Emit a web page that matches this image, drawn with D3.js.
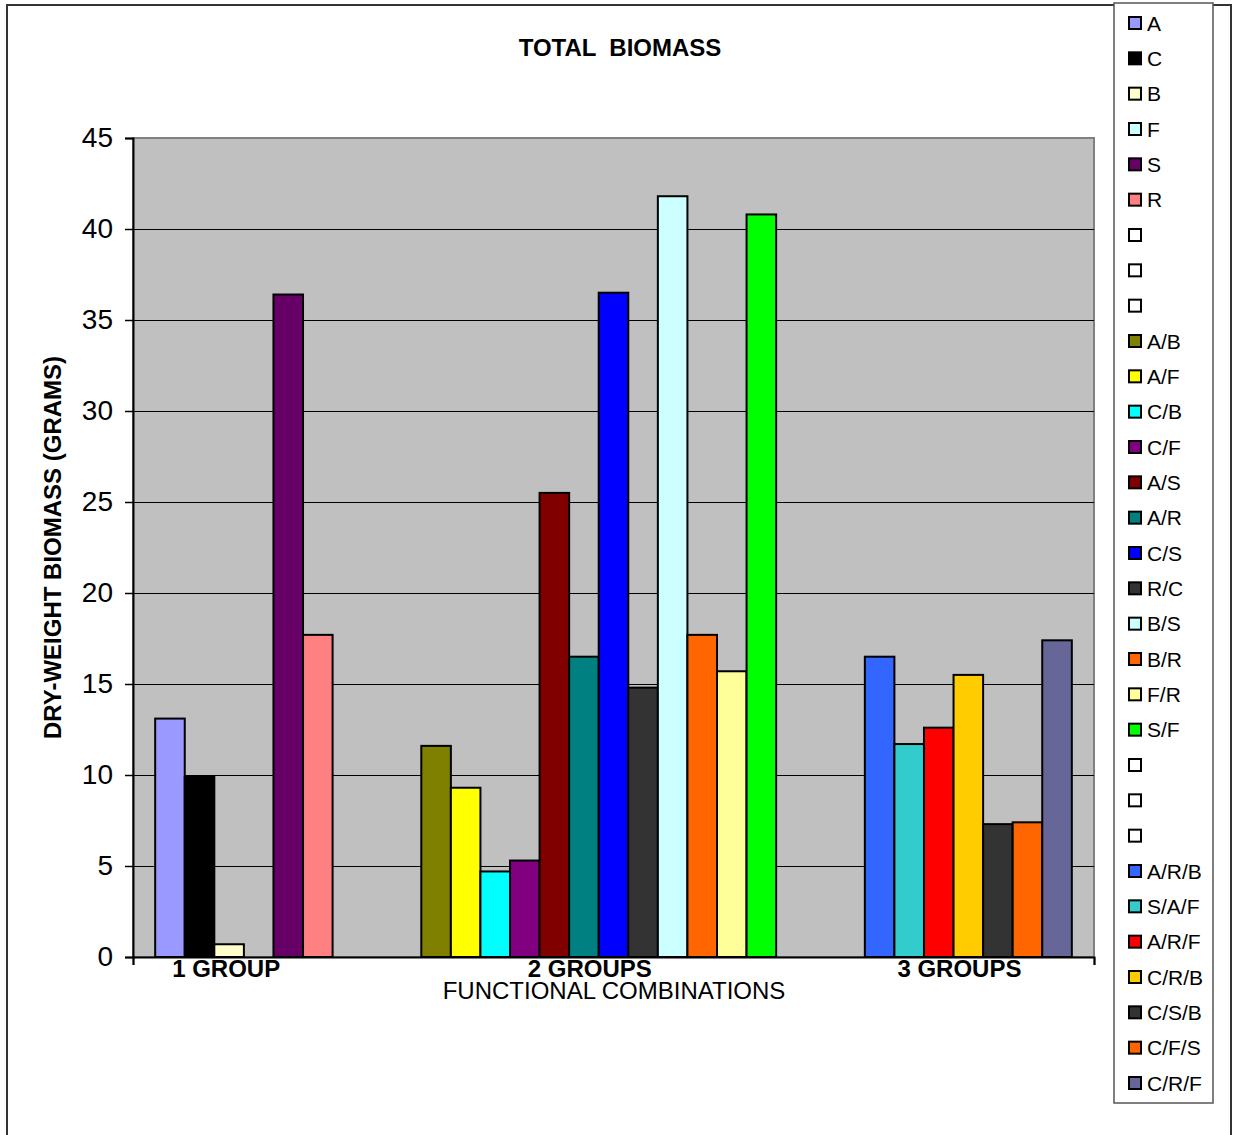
<!DOCTYPE html>
<html>
<head>
<meta charset="utf-8">
<script src="https://cdn.jsdelivr.net/npm/d3@7"></script>
<style>
  body {margin:0; background:#fff;}
  svg text {font-family: Arial, "Liberation Sans", sans-serif;}
</style>
</head>
<body>
<svg id="chart" width="1233" height="1135"></svg>
<script>
// series in legend order, blanks are empty series
var seriesNames = ["A","C","B","F","S","R","","","",
    "A/B","A/F","C/B","C/F","A/S","A/R","C/S","R/C","B/S","B/R","F/R","S/F","","","",
    "A/R/B","S/A/F","A/R/F","C/R/B","C/S/B","C/F/S","C/R/F"];
var seriesValues = [13.1, 9.9, 0.7, null, 36.4, 17.7, null, null, null,
    11.6, 9.3, 4.7, 5.3, 25.5, 16.5, 36.5, 14.8, 41.8, 17.7, 15.7, 40.8, null, null, null,
    16.5, 11.7, 12.6, 15.5, 7.3, 7.4, 17.4];
var seriesColors = ["#9999FF","#000000","#FFFFCC","#CCFFFF","#660066","#FF8080","#FFFFFF","#FFFFFF","#FFFFFF",
    "#808000","#FFFF00","#00FFFF","#800080","#800000","#008080","#0000FF","#333333","#CCFFFF","#FF6600","#FFFF99","#00FF00","#FFFFFF","#FFFFFF","#FFFFFF",
    "#3366FF","#33CCCC","#FF0000","#FFCC00","#333333","#FF6600","#666699"];
var groupLabels = ["1 GROUP","2 GROUPS","3 GROUPS"];
var groupLabelSlot = [1.9, 14.2, 26.7]; // where the group captions sit, in bar slots
var yTicks = [0,5,10,15,20,25,30,35,40,45];

var svg = d3.select('#chart');

var plot_left=133, plot_right=1094, plot_top=138, plot_bottom=957;

// outer chart frame
svg.append('rect')
    .attr('x',7).attr('y',5).attr('width',1224).attr('height',1140)
    .attr('fill','#fff').attr('stroke','#333').attr('stroke-width',2);

var idx = d3.range(seriesNames.length);
var xscale = d3.scaleBand().domain(idx).range([plot_left,plot_right]).paddingInner(0).paddingOuter(0.75);
var yscale = d3.scaleLinear().domain([0,45]).range([plot_bottom,plot_top]);

// plot area
svg.append('rect')
    .attr('x',plot_left).attr('y',plot_top)
    .attr('width',plot_right-plot_left).attr('height',plot_bottom-plot_top)
    .attr('fill','#C0C0C0').attr('stroke','#808080').attr('stroke-width',2);

// gridlines
svg.append('g').selectAll('line').data(yTicks.filter(function(d) {return d>0 && d<45;}))
    .enter().append('line')
    .attr('x1',plot_left).attr('x2',plot_right)
    .attr('y1',function(d) {return Math.round(yscale(d))+0.5;}).attr('y2',function(d) {return Math.round(yscale(d))+0.5;})
    .attr('stroke','#000').attr('stroke-width',1)
    .attr('shape-rendering','crispEdges');

// bars
svg.append('g').selectAll('rect').data(idx.filter(function(i) {return seriesValues[i]!==null;}))
    .enter().append('rect')
    .attr('x',function(i) {return xscale(i);})
    .attr('y',function(i) {return yscale(seriesValues[i]);})
    .attr('width',xscale.bandwidth())
    .attr('height',function(i) {return yscale(0)-yscale(seriesValues[i]);})
    .attr('fill',function(i) {return seriesColors[i];})
    .attr('stroke','#000').attr('stroke-width',2);

// y axis
var y_axis = d3.axisLeft(yscale).tickValues(yTicks).tickSize(8).tickPadding(12);
var Y = svg.append('g').attr('transform','translate('+plot_left+',0)').call(y_axis);
Y.select('.domain').attr('stroke','#000').attr('stroke-width',2);
Y.selectAll('.tick line').attr('stroke','#000').attr('stroke-width',1.5);
Y.selectAll('.tick text').attr('font-size','28px').attr('fill','#000')
    .attr('font-family','Arial, "Liberation Sans", sans-serif');

// x axis line with end ticks
var xs = d3.scaleLinear().domain([0,1]).range([plot_left,plot_right]);
var x_axis = d3.axisBottom(xs).tickValues([0,1]).tickSize(8).tickFormat('');
var X = svg.append('g').attr('transform','translate(0,'+plot_bottom+')').call(x_axis);
X.select('.domain').attr('stroke','#000').attr('stroke-width',2);
X.selectAll('.tick line').attr('stroke','#000').attr('stroke-width',1.5);

// group captions
var step = xscale.step();
svg.append('g').selectAll('text').data(groupLabels)
    .enter().append('text')
    .attr('x',function(d,i) {return xscale(0)+step*(groupLabelSlot[i]+0.5);})
    .attr('y',977)
    .attr('text-anchor','middle')
    .attr('font-size','24px').attr('font-weight','bold')
    .text(function(d) {return d;});

svg.append('text')
    .attr('x',614).attr('y',999)
    .attr('text-anchor','middle').attr('font-size','24px')
    .text('FUNCTIONAL COMBINATIONS');

svg.append('text')
    .attr('transform','translate(61,'+((plot_top+plot_bottom)/2)+') rotate(-90)')
    .attr('text-anchor','middle').attr('font-size','24px').attr('font-weight','bold')
    .text('DRY-WEIGHT BIOMASS (GRAMS)');

svg.append('text')
    .attr('x',620).attr('y',56)
    .attr('text-anchor','middle').attr('font-size','24px').attr('font-weight','bold')
    .style('white-space','pre')
    .text('TOTAL  BIOMASS');

// legend
var leg = svg.append('g');
leg.append('rect')
    .attr('x',1114).attr('y',3).attr('width',99).attr('height',1100)
    .attr('fill','#fff').attr('stroke','#555').attr('stroke-width',1.5);
var lscale = d3.scalePoint().domain(idx).range([23,1083]);
var items = leg.selectAll('g.item').data(idx).enter().append('g')
    .attr('transform',function(i) {return 'translate(1128,'+lscale(i)+')';});
items.append('rect')
    .attr('x',1).attr('y',-6).attr('width',12).attr('height',12)
    .attr('fill',function(i) {return seriesColors[i];})
    .attr('stroke','#000').attr('stroke-width',2);
items.append('text')
    .attr('x',19).attr('y',7.5)
    .attr('font-size','21px')
    .text(function(i) {return seriesNames[i];});
</script>
</body>
</html>
